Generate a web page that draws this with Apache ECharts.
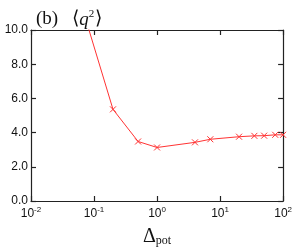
<!DOCTYPE html>
<html><head><meta charset="utf-8">
<script src="https://cdn.jsdelivr.net/npm/echarts@6/dist/echarts.min.js"></script>
<style>html,body{margin:0;padding:0;background:#fff}#c{width:295px;height:252px}</style>
</head><body><div id="c"></div>
<script>
var deltaPot = [0.05, 0.2, 0.5, 1, 4, 7, 20, 35, 50, 75, 100];
var q2 = [12.7, 5.36, 3.48, 3.13, 3.43, 3.61, 3.76, 3.81, 3.82, 3.87, 3.87];
var yTicks = [0, 2, 4, 6, 8, 10];

var data = deltaPot.map(function (d, i) { return [d, q2[i]]; });
var chart = echarts.init(document.getElementById('c'), null, {renderer: 'canvas'});
var sans = 'Liberation Sans';
var serif = 'Liberation Serif';
function tickStyle() { return {show: true, inside: true, length: 5, lineStyle: {color: '#222', width: 1.2}}; }
function lineStyle() { return {show: true, onZero: false, lineStyle: {color: '#222', width: 1.2}}; }
function xlab(v) {
  var e = Math.round(Math.log10(v));
  return '{b|10}{s|' + e + '}';
}
chart.setOption({
  animation: false,
  title: {
    text: '{t|(b)}{sp|}{t|⟨}{q|q}{s|2}{t|⟩}',
    left: 31, top: 4,
    textStyle: {
      fontWeight: 'normal',
      rich: {
        t: {fontFamily: serif, fontSize: 19, color: '#111', fontWeight: 'normal'},
        sp: {width: 14},
        q: {fontFamily: serif, fontStyle: 'italic', fontSize: 19, color: '#111', fontWeight: 'normal'},
        s: {fontFamily: serif, fontSize: 11, color: '#111', fontWeight: 'normal', verticalAlign: 'bottom', padding: [0, 1, 10, 0]}
      }
    }
  },
  grid: {left: 31, top: 30, right: 11, bottom: 41},
  xAxis: [{
    type: 'log', logBase: 10, min: 0.01, max: 100,
    axisLine: lineStyle(), axisTick: tickStyle(), minorTick: {show: false},
    splitLine: {show: false},
    axisLabel: {
      formatter: xlab, margin: 5,
      rich: {
        b: {fontFamily: sans, fontSize: 12, color: '#111'},
        s: {fontFamily: sans, fontSize: 8, color: '#111', verticalAlign: 'bottom', padding: [0, 0, 7, 0]}
      }
    },
    name: '{d|Δ}{p|pot}', nameLocation: 'middle', nameGap: 25,
    nameTextStyle: {
      rich: {
        d: {fontFamily: serif, fontSize: 20, color: '#111'},
        p: {fontFamily: serif, fontSize: 12, color: '#111', verticalAlign: 'top', padding: [9, 0, 0, 0]}
      }
    }
  }, {
    type: 'log', logBase: 10, min: 0.01, max: 100, position: 'top',
    axisLine: lineStyle(), axisTick: tickStyle(), axisLabel: {show: false}, splitLine: {show: false}
  }],
  yAxis: [{
    type: 'value', min: 0, max: 10, interval: 2,
    axisLine: lineStyle(), axisTick: tickStyle(), splitLine: {show: false},
    axisLabel: {formatter: function (v) { return v.toFixed(1); }, fontFamily: sans, fontSize: 12, color: '#111', margin: 3}
  }, {
    type: 'value', min: 0, max: 10, interval: 2, position: 'right',
    axisLine: lineStyle(), axisTick: tickStyle(), splitLine: {show: false}, axisLabel: {show: false}
  }],
  series: [{
    type: 'line', data: data, clip: true,
    lineStyle: {color: '#ff3333', width: 1},
    symbol: 'path://M0,0L10,10M10,0L0,10', symbolSize: 6,
    itemStyle: {color: 'rgba(0,0,0,0)', borderColor: '#ff3333', borderWidth: 1},
    showSymbol: true
  }]
});
</script></body></html>
